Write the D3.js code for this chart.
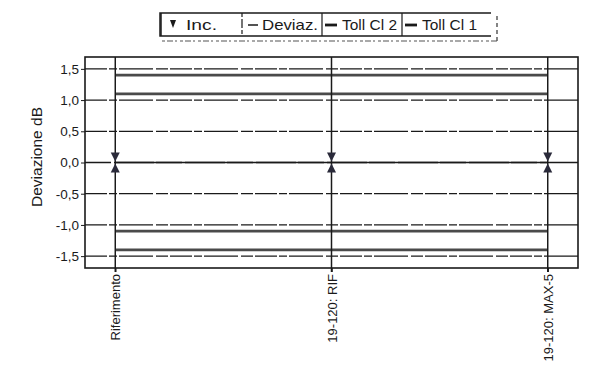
<!DOCTYPE html>
<html>
<head>
<meta charset="utf-8">
<script src="https://cdn.jsdelivr.net/npm/d3@7"></script>
<style>
  html, body { margin: 0; padding: 0; background: #fff; }
  svg { display: block; font-family: "Liberation Sans", Arial, sans-serif; }
</style>
</head>
<body>
<svg id="chart" width="597" height="367"></svg>
<script>
// Measurement points along the x axis
const categories = ["Riferimento", "19-120: RIF", "19-120: MAX-5"];
// Deviation at each point (dB)
const deviaz = [0.0, 0.0, 0.0];
// Uncertainty bounds at each point (dB)
const incUpper = [0.16, 0.16, 0.16];
const incLower = [-0.16, -0.16, -0.16];
// Tolerance limits, class 1 and class 2 (dB)
const tollCl1Upper = [1.1, 1.1, 1.1];
const tollCl1Lower = [-1.1, -1.1, -1.1];
const tollCl2Upper = [1.4, 1.4, 1.4];
const tollCl2Lower = [-1.4, -1.4, -1.4];
// Y-axis ticks and their labels
const yTicks = [1.5, 1.0, 0.5, 0.0, -0.5, -1.0, -1.5];
const yTickLabels = ["1,5", "1,0", "0,5", "0,0", "-0,5", "-1,0", "-1,5"];
// Legend entries
const legendLabels = ["Inc.", "Deviaz.", "Toll Cl 2", "Toll Cl 1"];

const svg = d3.select("#chart");
const plot = { left: 85, right: 578, top: 57, bottom: 268 };

const x = d3.scalePoint()
  .domain(categories)
  .range([plot.left, plot.right])
  .padding(0.14);

const y = d3.scaleLinear()
  .domain([-1.69, 1.69])
  .range([plot.bottom, plot.top]);

const ink = "#1a1a1a";

// Horizontal grid lines (broken, dash-dot)
svg.append("g")
  .selectAll("line")
  .data(yTicks)
  .join("line")
  .attr("x1", plot.left)
  .attr("x2", plot.right)
  .attr("y1", d => y(d))
  .attr("y2", d => y(d))
  .attr("stroke", ink)
  .attr("stroke-width", d => d === 0 ? 1.5 : 1.2)
  .attr("stroke-dasharray", d => d === 0 ? "26,3,40,2" : "22,2,8,2,34,3,12,2");

// Tolerance lines
const lineGen = d3.line()
  .x((d, i) => x(categories[i]))
  .y(d => y(d));

const tolSeries = [tollCl2Upper, tollCl1Upper, tollCl1Lower, tollCl2Lower];
svg.append("g")
  .selectAll("path")
  .data(tolSeries)
  .join("path")
  .attr("d", d => lineGen(d))
  .attr("fill", "none")
  .attr("stroke", "#4a4a4a")
  .attr("stroke-width", 2.6);

// Vertical lines at each measurement point, continuing down as ticks
svg.append("g")
  .selectAll("line")
  .data(categories)
  .join("line")
  .attr("x1", d => x(d))
  .attr("x2", d => x(d))
  .attr("y1", plot.top)
  .attr("y2", plot.bottom + 4)
  .attr("stroke", ink)
  .attr("stroke-width", 1.5);

// Deviation line
svg.append("path")
  .attr("d", lineGen(deviaz))
  .attr("fill", "none")
  .attr("stroke", ink)
  .attr("stroke-width", 1.6);

// Uncertainty markers: triangles pointing towards the deviation
const tri = 9, half = 4.5;
svg.append("g")
  .selectAll("path")
  .data(categories)
  .join("path")
  .attr("d", (d, i) => {
    const cx = x(d), yb = y(incUpper[i]);
    return `M${cx - half},${yb} L${cx + half},${yb} L${cx},${yb + tri} Z`;
  })
  .attr("fill", "#2a2a3a");
svg.append("g")
  .selectAll("path")
  .data(categories)
  .join("path")
  .attr("d", (d, i) => {
    const cx = x(d), yb = y(incLower[i]);
    return `M${cx - half},${yb} L${cx + half},${yb} L${cx},${yb - tri} Z`;
  })
  .attr("fill", "#2a2a3a");

// Plot frame
svg.append("rect")
  .attr("x", plot.left)
  .attr("y", plot.top)
  .attr("width", plot.right - plot.left)
  .attr("height", plot.bottom - plot.top)
  .attr("fill", "none")
  .attr("stroke", ink)
  .attr("stroke-width", 1.6);

// Y axis
const yAxis = d3.axisLeft(y)
  .tickValues(yTicks)
  .tickFormat((d, i) => yTickLabels[i])
  .tickSize(4)
  .tickPadding(2);
const gy = svg.append("g")
  .attr("transform", `translate(${plot.left},0)`)
  .call(yAxis);
gy.select(".domain").remove();
gy.selectAll("line").attr("stroke", ink);
gy.selectAll("text")
  .attr("font-size", 13.5)
  .attr("fill", ink)
  .attr("font-family", "'Liberation Sans', Arial, sans-serif");

// X axis labels, rotated
const xAxis = d3.axisBottom(x).tickSize(4).tickPadding(3);
const gx = svg.append("g")
  .attr("transform", `translate(0,${plot.bottom})`)
  .call(xAxis);
gx.select(".domain").remove();
gx.selectAll("line").attr("stroke", ink).attr("stroke-width", 1.5);
gx.selectAll("text")
  .attr("font-size", 13)
  .attr("fill", ink)
  .attr("font-family", "'Liberation Sans', Arial, sans-serif")
  .attr("text-anchor", "end")
  .attr("transform", "rotate(-90)")
  .attr("x", -6)
  .attr("y", 0)
  .attr("dy", "0.35em");

// Y axis title
svg.append("text")
  .attr("transform", `translate(42,157) rotate(-90)`)
  .attr("text-anchor", "middle")
  .attr("font-size", 15.5)
  .attr("fill", ink)
  .text("Deviazione dB");

// Legend
const legend = svg.append("g");
const lgTop = 13, lgBottom = 36;
const lgLeft = 160, lgRight = 497;
const seps = [242, 322, 402];
legend.append("rect")
  .attr("x", lgLeft)
  .attr("y", lgTop)
  .attr("width", lgRight - lgLeft)
  .attr("height", lgBottom - lgTop)
  .attr("fill", "#fff")
  .attr("stroke", "none");
// Solid top, left and bottom edges
legend.append("path")
  .attr("d", `M${lgRight - 6},${lgTop} H${lgLeft} V${lgBottom} H${lgRight - 6}`)
  .attr("fill", "none")
  .attr("stroke", ink)
  .attr("stroke-width", 1.5);
legend.append("line")
  .attr("x1", lgLeft + 1).attr("x2", lgLeft + 1)
  .attr("y1", lgTop).attr("y2", lgBottom)
  .attr("stroke", ink).attr("stroke-width", 1.5);
legend.selectAll("line.sep")
  .data(seps)
  .join("line")
  .attr("class", "sep")
  .attr("x1", d => d)
  .attr("x2", d => d)
  .attr("y1", lgTop)
  .attr("y2", lgBottom)
  .attr("stroke", ink)
  .attr("stroke-width", 1.2)
  .attr("stroke-dasharray", (d, i) => i === 0 ? "4,2,9,2" : null);
// Broken right edge and lower shadow edge
legend.append("line")
  .attr("x1", lgRight).attr("x2", lgRight)
  .attr("y1", lgTop + 3).attr("y2", lgBottom + 6)
  .attr("stroke", "#333").attr("stroke-width", 1.2)
  .attr("stroke-dasharray", "4,3");
legend.append("line")
  .attr("x1", lgLeft + 2).attr("x2", lgRight)
  .attr("y1", lgBottom + 5).attr("y2", lgBottom + 5)
  .attr("stroke", "#555").attr("stroke-width", 1.1)
  .attr("stroke-dasharray", "3,2,6,2,2,3");

const lgMid = (lgTop + lgBottom) / 2 + 0.5;
// Inc. symbol
legend.append("path")
  .attr("d", `M170,${lgMid - 5} L176,${lgMid - 5} L173,${lgMid + 3} Z`)
  .attr("fill", ink);
// Deviaz. symbol
legend.append("line")
  .attr("x1", 248).attr("x2", 258)
  .attr("y1", lgMid).attr("y2", lgMid)
  .attr("stroke", ink).attr("stroke-width", 1.5);
// Tolerance symbols
[325, 405].forEach(sx => {
  legend.append("line")
    .attr("x1", sx).attr("x2", sx + 12)
    .attr("y1", lgMid).attr("y2", lgMid)
    .attr("stroke", ink).attr("stroke-width", 2.8);
});
const textX = [186, 262, 342, 422];
const textW = [31, 56, 55, 55];
legend.selectAll("text")
  .data(legendLabels)
  .join("text")
  .attr("x", (d, i) => textX[i])
  .attr("y", lgMid)
  .attr("dy", "0.36em")
  .attr("font-size", 14.5)
  .attr("textLength", (d, i) => textW[i])
  .attr("lengthAdjust", "spacingAndGlyphs")
  .attr("fill", ink)
  .text(d => d);
</script>
</body>
</html>
